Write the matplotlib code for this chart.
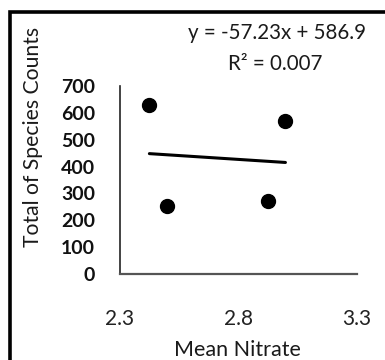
import matplotlib.pyplot as plt
from matplotlib.patches import Rectangle

# mean nitrate vs. total species counts at each site
nitrate = [2.424, 2.498, 2.923, 2.998]
species_counts = [631, 255, 271, 569]

# fitted linear trend (as reported)
slope = -57.23
intercept = 586.9
r_squared = 0.007

x_ticks = [2.3, 2.8, 3.3]
x_tick_labels = ["2.3", "2.8", "3.3"]
y_ticks = [0, 100, 200, 300, 400, 500, 600, 700]

fig = plt.figure(figsize=(3.85, 3.6), dpi=100)
ax = fig.add_axes([120 / 385, 1 - 274 / 360, 237 / 385, 188 / 360])

ax.scatter(nitrate, species_counts, s=100, color="black", zorder=3)

x0, x1 = min(nitrate), max(nitrate)
ax.plot([x0, x1], [slope * x0 + intercept, slope * x1 + intercept],
        color="black", linewidth=2.2, solid_capstyle="round")

ax.set_xlim(2.3, 3.3)
ax.set_ylim(0, 700)
ax.set_xticks(x_ticks)
ax.set_xticklabels(x_tick_labels, family="Lato", fontsize=15, color="#222222")
ax.set_yticks(y_ticks)
ax.set_yticklabels([str(v) for v in y_ticks], family="Lato", fontweight="bold",
                   fontsize=14, color="#111111")
ax.tick_params(axis="x", length=0, pad=25)
ax.tick_params(axis="y", length=0, pad=18)

for side in ("top", "right"):
    ax.spines[side].set_visible(False)
ax.spines["left"].set_color("#222222")
ax.spines["bottom"].set_color("#555555")
ax.spines["left"].set_linewidth(1.2)
ax.spines["bottom"].set_linewidth(1.6)

fig.text(277 / 385, 1 - 33 / 360, f"y = {slope}x + {intercept}", family="Lato",
         fontsize=14.8, ha="center", va="center", color="#1a1a1a")
fig.text(275 / 385, 1 - 64 / 360, f"R² = {r_squared}", family="Lato",
         fontsize=14.8, ha="center", va="center", color="#1a1a1a")

fig.text(33 / 385, 1 - 137 / 360, "Total of Species Counts", family="Lato",
         fontsize=15.2, rotation=90, ha="center", va="center", color="#1a1a1a")
fig.text(237 / 385, 1 - 350 / 360, "Mean Nitrate", family="Lato",
         fontsize=15.5, ha="center", va="center", color="#1a1a1a")

# outer chart border
fig.patches.append(Rectangle((9.5 / 385, -0.2), 1.2, 1 + 0.2 - 12 / 360,
                             transform=fig.transFigure, fill=False,
                             edgecolor="black", linewidth=2.6))

fig.savefig("out.png", dpi=100)
